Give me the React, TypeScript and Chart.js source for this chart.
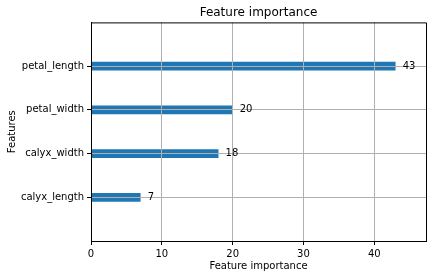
import React, { useEffect, useRef } from "react";
import { Chart, registerables } from "chart.js";

Chart.register(...registerables);

const features = ["calyx_length", "calyx_width", "petal_width", "petal_length"];
const importance = [7, 18, 20, 43];
const xTicks = [0, 10, 20, 30, 40];
const xMax = 47.3;
const yMin = -1;
const yMax = 4;

const FONT = "'DejaVu Sans', sans-serif";

export default function App() {
  const ref = useRef<HTMLCanvasElement | null>(null);

  useEffect(() => {
    if (!ref.current) return;
    const framePlugin = {
      id: "frame",
      afterDraw(chart: any) {
        const { ctx, chartArea, scales } = chart;
        ctx.save();
        ctx.strokeStyle = "#000";
        ctx.lineWidth = 1;
        ctx.beginPath();
        ctx.moveTo(chartArea.left, chartArea.top + 0.5);
        ctx.lineTo(chartArea.right + 0.5, chartArea.top + 0.5);
        ctx.lineTo(chartArea.right + 0.5, chartArea.bottom);
        ctx.stroke();
        ctx.fillStyle = "#000";
        ctx.font = `10px ${FONT}`;
        ctx.textAlign = "left";
        ctx.textBaseline = "middle";
        importance.forEach((v, i) => {
          const x = scales.x.getPixelForValue(v + 1);
          const y = scales.y.getPixelForValue(i);
          ctx.fillText(String(v), x, y);
        });
        ctx.restore();
      },
    };

    const chart = new Chart(ref.current, {
      type: "bar",
      data: {
        datasets: [
          {
            data: importance.map((v, i) => ({ x: v, y: i })),
            backgroundColor: "#1f77b4",
            borderWidth: 0,
            barPercentage: 0.2,
            categoryPercentage: 1,
          },
        ],
      },
      options: {
        indexAxis: "y",
        animation: false,
        responsive: false,
        layout: { padding: { left: 0, right: 7, top: 0, bottom: 0 } },
        plugins: {
          legend: { display: false },
          tooltip: { enabled: false },
          title: {
            display: true,
            text: "Feature importance",
            fullSize: false,
            color: "#000",
            font: { family: FONT, size: 12, weight: "normal" },
            padding: { top: 6, bottom: 2 },
          },
        },
        scales: {
          x: {
            type: "linear",
            min: 0,
            max: xMax,
            offset: false,
            afterBuildTicks: (s: any) => {
              s.ticks = xTicks.map((v) => ({ value: v }));
            },
            afterFit: (s: any) => {
              s.height = 37;
            },
            grid: {
              color: "#b0b0b0",
              lineWidth: 1,
              tickColor: "#000",
              tickLength: 4,
              offset: false,
              z: 1,
            },
            border: { display: true, color: "#000", width: 1, z: 1 },
            ticks: {
              color: "#000",
              padding: 3,
              maxRotation: 0,
              font: { family: FONT, size: 10 },
            },
            title: {
              display: true,
              text: "Feature importance",
              color: "#000",
              font: { family: FONT, size: 10 },
              padding: { top: 2, bottom: 6 },
            },
          },
          y: {
            type: "linear",
            min: yMin,
            max: yMax,
            offset: false,
            afterBuildTicks: (s: any) => {
              s.ticks = features.map((_, i) => ({ value: i }));
            },
            afterFit: (s: any) => {
              s.width = 91;
            },
            grid: {
              color: "#b0b0b0",
              lineWidth: 1,
              tickColor: "#000",
              tickLength: 4,
              offset: false,
              z: 1,
            },
            border: { display: true, color: "#000", width: 1, z: 1 },
            ticks: {
              color: "#000",
              padding: 3,
              font: { family: FONT, size: 10 },
              callback: (v: any) => features[v] ?? "",
            },
            title: {
              display: true,
              text: "Features",
              color: "#000",
              font: { family: FONT, size: 10 },
              padding: { top: 6, bottom: 2 },
            },
          },
        },
      },
      plugins: [framePlugin],
    } as any);
    return () => chart.destroy();
  }, []);

  return (
    <div style={{ position: "fixed", left: 0, top: 0, width: 433, height: 278, background: "#fff" }}>
      <canvas ref={ref} width={433} height={278} />
    </div>
  );
}
